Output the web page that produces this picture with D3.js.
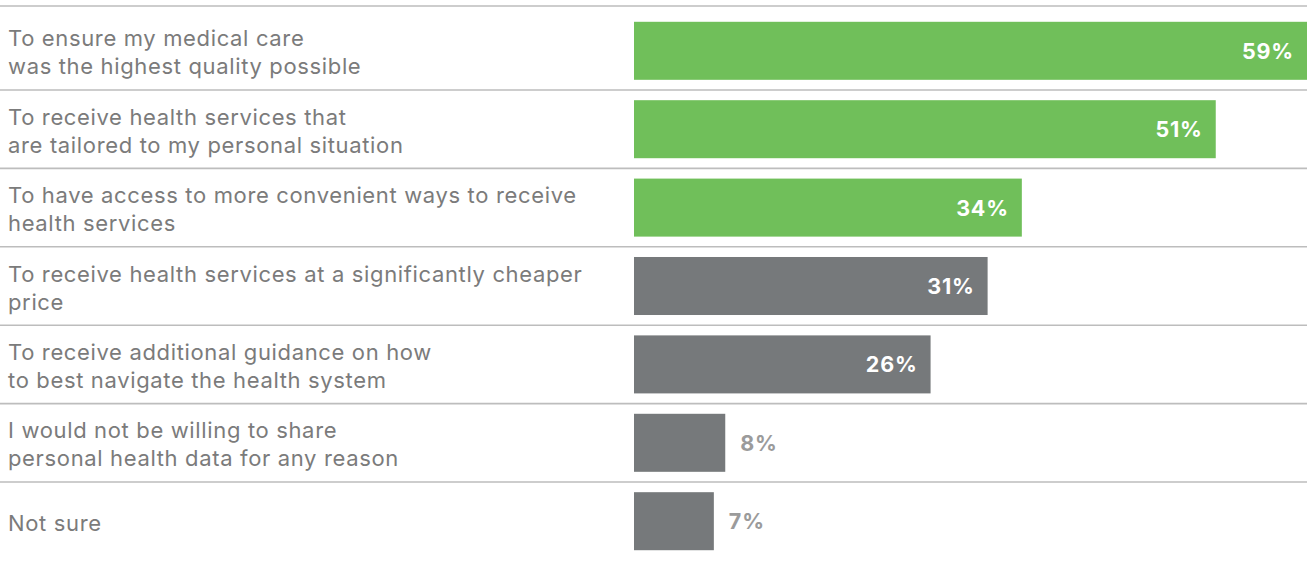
<!DOCTYPE html>
<html>
<head>
<meta charset="utf-8">
<script src="https://cdn.jsdelivr.net/npm/d3@7"></script>
<style>
  html, body { margin: 0; padding: 0; background: #fff; }
  svg { display: block; }
</style>
</head>
<body>
<svg id="chart" width="1307" height="564"></svg>
<script>
// Reasons respondents would share personal health data
const categories = [
  ["To ensure my medical care", "was the highest quality possible"],
  ["To receive health services that", "are tailored to my personal situation"],
  ["To have access to more convenient ways to receive", "health services"],
  ["To receive health services at a significantly cheaper", "price"],
  ["To receive additional guidance on how", "to best navigate the health system"],
  ["I would not be willing to share", "personal health data for any reason"],
  ["Not sure"]
];
const values = [59, 51, 34, 31, 26, 8, 7];
const highlighted = [true, true, true, false, false, false, false];

const W = 1307, H = 564;
const svg = d3.select("#chart");

const rows = d3.range(values.length);
const y = d3.scaleBand().domain(rows).range([11.6, 560.4]).paddingInner(0.26).paddingOuter(0.13);
const x = d3.scaleLinear().domain([0, 59]).range([634, 1307]);

const fontFamily = "Inter, 'Noto Sans', sans-serif";

// Row separators
const step = y.step();
const rowTop = i => y(i) - y.paddingOuter() * step;
svg.append("g").selectAll("line")
  .data(rows)
  .join("line")
  .attr("x1", 0).attr("x2", W)
  .attr("y1", i => i === 0 ? 6 : rowTop(i))
  .attr("y2", i => i === 0 ? 6 : rowTop(i))
  .attr("stroke", "#bdbdbd")
  .attr("stroke-width", 1.6);

// Category labels
const lineH = 28;
const labels = svg.append("g")
  .attr("font-family", fontFamily)
  .attr("font-size", 22)
  .attr("letter-spacing", 0.65)
  .attr("fill", "#7b7b7b");
labels.selectAll("text")
  .data(rows)
  .join("text")
  .attr("x", 8)
  .attr("y", i => y(i) + y.bandwidth() / 2)
  .each(function(i) {
    const lines = categories[i];
    const t = d3.select(this);
    lines.forEach((s, k) => {
      t.append("tspan")
        .attr("x", 8)
        .attr("dy", k === 0 ? ((-(lines.length - 1) / 2) * lineH + 9.5) : lineH)
        .text(s);
    });
  });

// Bars
svg.append("g").selectAll("rect")
  .data(rows)
  .join("rect")
  .attr("x", x(0))
  .attr("y", i => y(i))
  .attr("width", i => x(values[i]) - x(0))
  .attr("height", y.bandwidth())
  .attr("fill", i => highlighted[i] ? "#70bf5a" : "#76797b");

// Value labels: inside the bar when it is wide enough, otherwise just past its end
svg.append("g")
  .attr("font-family", fontFamily)
  .attr("font-size", 21.5)
  .attr("font-weight", 700)
  .attr("letter-spacing", 0.8)
  .selectAll("text")
  .data(rows)
  .join("text")
  .attr("y", i => y(i) + y.bandwidth() / 2 + 8)
  .attr("x", i => values[i] > 15 ? x(values[i]) - 13 : x(values[i]) + 15)
  .attr("text-anchor", i => values[i] > 15 ? "end" : "start")
  .attr("fill", i => values[i] > 15 ? "#ffffff" : "#9b9b9b")
  .text(i => values[i] + "%");
</script>
</body>
</html>
